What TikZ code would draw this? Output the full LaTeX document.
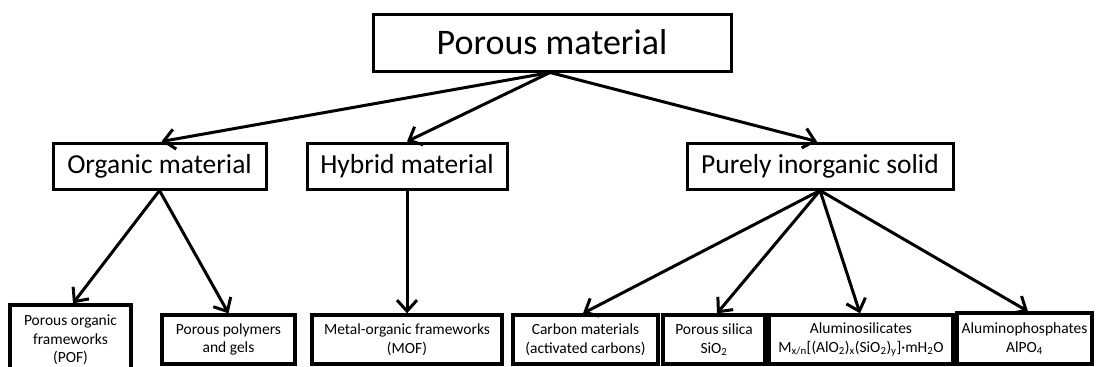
\documentclass[tikz,border=0pt]{standalone}
\usepackage{fontspec}
\setmainfont{Carlito}
\usetikzlibrary{arrows.meta}
\begin{document}
\begin{tikzpicture}[x=1pt,y=-1pt,
  box/.style={draw=black,line width=3pt,inner sep=0pt,align=center,fill=white},
  topbox/.style={box,font=\fontsize{36}{43}\selectfont},
  midbox/.style={box,font=\fontsize{27.5}{33}\selectfont,minimum height=46pt},
  leafbox/.style={box,line width=3.3pt,font=\fontsize{15.5}{18.5}\selectfont,minimum height=49pt},
  arr/.style={line width=3pt,-{Straight Barb[length=11pt,width=20pt,line width=3pt]}}
]
\useasboundingbox[fill=white] (0,0) rectangle (1096,367);
% level 0
\node[topbox,minimum width=358pt,minimum height=57pt] (top) at (552,42.5) {Porous material};
% level 1
\node[midbox,minimum width=213pt] (org) at (159.5,166) {Organic material};
\node[midbox,minimum width=200pt] (hyb) at (407,166) {Hybrid material};
\node[midbox,minimum width=266pt] (inorg) at (820,166) {Purely inorganic solid};
% level 2
\node[leafbox,minimum width=121pt,minimum height=70pt] (pof) at (70.5,340) {Porous organic\\frameworks\\(POF)};
\node[leafbox,minimum width=133pt] (poly) at (228.5,339.5) {Porous polymers\\and gels};
\node[leafbox,minimum width=190pt] (mof) at (407,339.5) {Metal-organic frameworks\\(MOF)};
\node[leafbox,minimum width=145pt] (carb) at (585.5,339.5) {Carbon materials\\(activated carbons)};
\node[leafbox,minimum width=102pt] (sil) at (714,339.5) {Porous silica\\SiO\textsubscript{2}};
\node[leafbox,minimum width=184pt] (alsi) at (861,339.5) {Aluminosilicates\\M\textsubscript{x/n}[(AlO\textsubscript{2})\textsubscript{x}(SiO\textsubscript{2})\textsubscript{y}]·mH\textsubscript{2}O};
\node[leafbox,minimum width=135pt,minimum height=51pt] (alp) at (1024.5,338.5) {Aluminophosphates\\AlPO\textsubscript{4}};
% connectors
\draw[arr] ([xshift=-2pt]top.south) -- ([xshift=2pt]org.north);
\draw[arr] ([xshift=-2pt]top.south) -- (hyb.north);
\draw[arr] ([xshift=-2pt]top.south) -- ([xshift=-3pt]inorg.north);
\draw[arr] (org.south) -- ([xshift=2.5pt]pof.north);
\draw[arr] (org.south) -- (poly.north);
\draw[arr] (hyb.south) -- (mof.north);
\draw[arr] (inorg.south) -- ([xshift=-2.5pt]carb.north);
\draw[arr] (inorg.south) -- ([xshift=3pt]sil.north);
\draw[arr] (inorg.south) -- ([xshift=-1pt]alsi.north);
\draw[arr] (inorg.south) -- ([xshift=3.5pt]alp.north);
\end{tikzpicture}
\end{document}
